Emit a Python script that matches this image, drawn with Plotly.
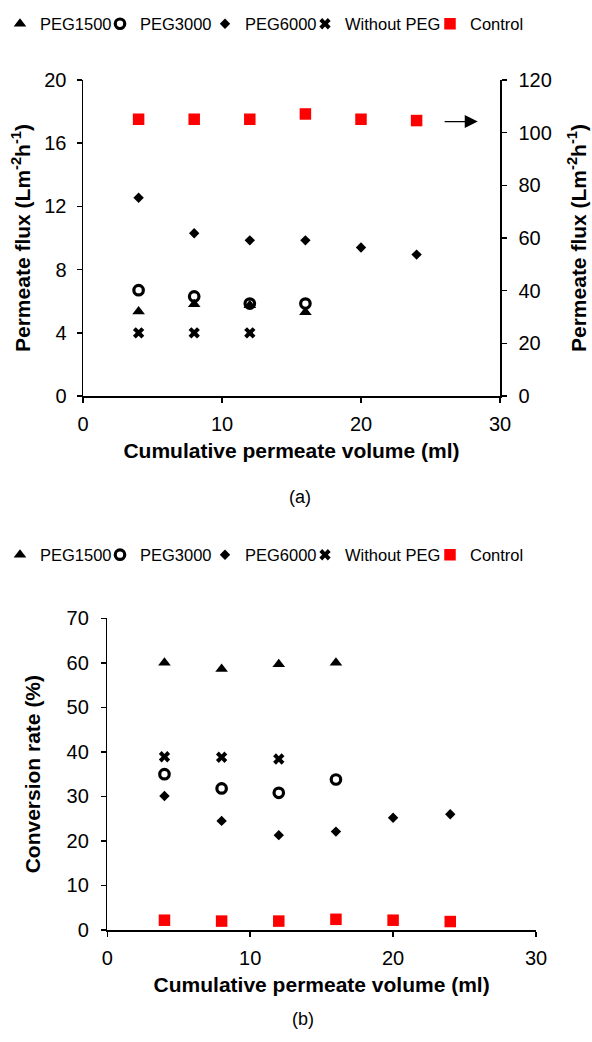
import plotly.graph_objects as go

# ---------------- data ----------------
series_names = ["PEG1500", "PEG3000", "PEG6000", "Without PEG", "Control"]

# Panel (a): permeate flux (Lm-2h-1); Control is read on the right axis
a_x_peg1500 = [4, 8, 12, 16]
a_y_peg1500 = [5.35, 5.8, 5.75, 5.3]
a_x_peg3000 = [4, 8, 12, 16]
a_y_peg3000 = [6.7, 6.3, 5.85, 5.85]
a_x_peg6000 = [4, 8, 12, 16, 20, 24]
a_y_peg6000 = [12.55, 10.3, 9.85, 9.85, 9.4, 8.95]
a_x_without = [4, 8, 12]
a_y_without = [4.0, 4.0, 4.0]
a_x_control = [4, 8, 12, 16, 20, 24]
a_y_control = [105.1, 105.1, 105.1, 107.1, 105.1, 104.6]

# Panel (b): conversion rate (%)
b_x_peg1500 = [4, 8, 12, 16]
b_y_peg1500 = [60.0, 58.6, 59.7, 60.0]
b_x_peg3000 = [4, 8, 12, 16]
b_y_peg3000 = [35.0, 31.8, 30.8, 33.8]
b_x_peg6000 = [4, 8, 12, 16, 20, 24]
b_y_peg6000 = [30.1, 24.5, 21.3, 22.1, 25.2, 26.0]
b_x_without = [4, 8, 12]
b_y_without = [38.9, 38.8, 38.4]
b_x_control = [4, 8, 12, 16, 20, 24]
b_y_control = [2.2, 2.0, 2.0, 2.4, 2.2, 1.9]

x_ticks = [0, 10, 20, 30]
a_left_ticks = [0, 4, 8, 12, 16, 20]
a_right_ticks = [0, 20, 40, 60, 80, 100, 120]
b_ticks = [0, 10, 20, 30, 40, 50, 60, 70]

# ---------------- styles / layout ----------------
W, H = 592, 1042
FONT = "Liberation Sans, Arial, sans-serif"
styles = {
    "PEG1500": dict(symbol="triangle-up", size=11, color="black", line=dict(width=0)),
    "PEG3000": dict(symbol="circle-open", size=9.5, color="black", line=dict(width=3.2, color="black")),
    "PEG6000": dict(symbol="diamond", size=8, color="black", line=dict(width=0)),
    "Without PEG": dict(symbol="x", size=10, color="black", line=dict(width=0)),
    "Control": dict(symbol="square", size=11.5, color="#FF0000", line=dict(width=0)),
}
# pixel x of each single-entry legend box (symbol sits ~20px in, text ~40px in)
legend_box_px = [0, 100, 205, 305, 430]
legend_row_px = {"a": 24, "b": 555}

fig = go.Figure()

a_data = [(a_x_peg1500, a_y_peg1500), (a_x_peg3000, a_y_peg3000), (a_x_peg6000, a_y_peg6000),
          (a_x_without, a_y_without), (a_x_control, a_y_control)]
b_data = [(b_x_peg1500, b_y_peg1500), (b_x_peg3000, b_y_peg3000), (b_x_peg6000, b_y_peg6000),
          (b_x_without, b_y_without), (b_x_control, b_y_control)]

legend_layouts = {}
for p, (panel, data) in enumerate([("a", a_data), ("b", b_data)]):
    for i, (name, (xs, ys)) in enumerate(zip(series_names, data)):
        k = p * 5 + i + 1
        lid = "legend" if k == 1 else f"legend{k}"
        if panel == "a":
            xa, ya = "x", ("y2" if name == "Control" else "y")
        else:
            xa, ya = "x2", "y3"
        fig.add_trace(go.Scatter(
            x=xs, y=ys, mode="markers", name=name, marker=styles[name],
            xaxis=xa, yaxis=ya, legend=lid, cliponaxis=False))
        legend_layouts[lid] = dict(
            orientation="h", x=legend_box_px[i] / W, xanchor="left",
            y=1 - legend_row_px[panel] / H, yanchor="middle",
            font=dict(family=FONT, size=16.5, color="black"), itemwidth=30,
            bgcolor="rgba(0,0,0,0)", borderwidth=0, itemclick=False, itemdoubleclick=False)

axis_common = dict(
    showline=True, linecolor="black", linewidth=1.5, showgrid=False, zeroline=False,
    ticks="outside", ticklen=5, tickwidth=1.5, tickcolor="black",
    tickfont=dict(family=FONT, size=20, color="black"), fixedrange=True, automargin=False,
)
title_font = dict(family=FONT, size=21, color="black")

a_x0, a_x1, a_top, a_bot = 83, 500, 80, 396
b_x0, b_x1, b_top, b_bot = 107.3, 536, 618.3, 930

fig.update_layout(
    width=W, height=H, margin=dict(l=0, r=0, t=0, b=0, autoexpand=False),
    paper_bgcolor="white", plot_bgcolor="white", showlegend=True,
    font=dict(family=FONT, color="black"),
    xaxis=dict(axis_common, domain=[a_x0 / W, a_x1 / W], anchor="y", range=[0, 30], tickvals=x_ticks,
               ticklabelstandoff=4,
               title=dict(text="<b>Cumulative permeate volume (ml)</b>", font=title_font, standoff=10)),
    yaxis=dict(axis_common, domain=[1 - a_bot / H, 1 - a_top / H], anchor="x", range=[0, 20],
               tickvals=a_left_ticks, ticklabelstandoff=6,
               title=dict(text="<b>Permeate flux (Lm<sup>-2</sup>h<sup>-1</sup>)</b>", font=title_font, standoff=8)),
    yaxis2=dict(axis_common, overlaying="y", side="right", anchor="x", range=[0, 120],
                tickvals=a_right_ticks, ticklabelstandoff=8,
                title=dict(text="<b>Permeate flux (Lm<sup>-2</sup>h<sup>-1</sup>)</b>", font=title_font, standoff=20)),
    xaxis2=dict(axis_common, domain=[b_x0 / W, b_x1 / W], anchor="y3", range=[0, 30], tickvals=x_ticks,
                ticklabelstandoff=4,
                title=dict(text="<b>Cumulative permeate volume (ml)</b>", font=title_font, standoff=10)),
    yaxis3=dict(axis_common, domain=[1 - b_bot / H, 1 - b_top / H], anchor="x2", range=[0, 70],
                tickvals=b_ticks, ticklabelstandoff=8,
                title=dict(text="<b>Conversion rate (%)</b>", font=title_font, standoff=20)),
    annotations=[
        dict(text="(a)", xref="paper", yref="paper", x=300 / W, y=1 - 497 / H, showarrow=False,
             font=dict(family=FONT, size=18, color="black")),
        dict(text="(b)", xref="paper", yref="paper", x=303 / W, y=1 - 1031 / H, showarrow=False,
             font=dict(family=FONT, size=18, color="black")),
        dict(text=" ", xref="x", yref="y2", x=28.4, y=104.2, axref="x", ayref="y2", ax=25.8, ay=104.2,
             showarrow=True, arrowhead=2, arrowsize=2, arrowwidth=1.3, arrowcolor="black"),
    ],
)
fig.update_layout(**legend_layouts)

fig.write_html("out.html", config={"displayModeBar": False, "staticPlot": True},
               post_script="document.body.style.margin='0';document.body.style.padding='0';")
